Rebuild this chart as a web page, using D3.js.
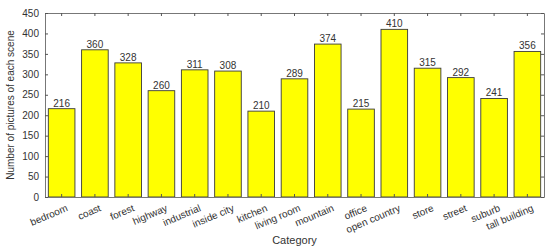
<!DOCTYPE html>
<html>
<head>
<meta charset="utf-8">
<script src="https://cdn.jsdelivr.net/npm/d3@7"></script>
<style>
  body { margin: 0; background: #fff; }
  text { font-family: "Liberation Sans", Arial, sans-serif; fill: #333; }
</style>
</head>
<body>
<script>
var categories = ['bedroom','coast','forest','highway','industrial','inside city','kitchen','living room','mountain','office','open country','store','street','suburb','tall building'];
var counts = [216, 360, 328, 260, 311, 308, 210, 289, 374, 215, 410, 315, 292, 241, 356];
var yTicks = [0, 50, 100, 150, 200, 250, 300, 350, 400, 450];

var w = 550, h = 251;
var plotLeft = 45, plotRight = 544, plotTop = 13, plotBottom = 197;

var svg = d3.select('body').append('svg')
  .attr('width', w)
  .attr('height', h);

/* ===== scales ===== */

var xScale = d3.scaleBand()
  .domain(categories)
  .range([plotLeft, plotRight])
  .paddingInner(0.2)
  .paddingOuter(0.1);

var yScale = d3.scaleLinear()
  .domain([0, 450])
  .range([plotBottom, plotTop]);

/* ===== bars ===== */

svg.selectAll('rect.bar').data(categories)
  .enter()
  .append('rect')
  .attr('class', 'bar')
  .attr('x', function(d) { return xScale(d); })
  .attr('y', function(d, i) { return yScale(counts[i]); })
  .attr('width', xScale.bandwidth())
  .attr('height', function(d, i) { return plotBottom - yScale(counts[i]); })
  .attr('fill', '#ffff00')
  .attr('stroke', '#3a3a3a')
  .attr('stroke-width', 0.9);

svg.selectAll('text.val').data(categories)
  .enter()
  .append('text')
  .attr('class', 'val')
  .attr('x', function(d) { return xScale(d) + xScale.bandwidth() / 2; })
  .attr('y', function(d, i) { return yScale(counts[i]) - 2; })
  .attr('text-anchor', 'middle')
  .attr('font-size', 10)
  .text(function(d, i) { return counts[i]; });

/* ===== axes ===== */

var tickX = function(d) { return xScale(d) + xScale.bandwidth() / 2; };

var xAxis = d3.axisBottom(xScale).tickSizeInner(-3).tickSizeOuter(0).tickFormat('');
var xAxisTop = d3.axisTop(xScale).tickSizeInner(-3).tickSizeOuter(0).tickFormat('');
var yAxis = d3.axisLeft(yScale).tickValues(yTicks).tickSizeInner(-3).tickSizeOuter(0).tickPadding(6);
var yAxisRight = d3.axisRight(yScale).tickValues(yTicks).tickSizeInner(-3).tickSizeOuter(0).tickFormat('');

function styleAxis(g) {
  g.select('.domain').attr('stroke', '#777');
  g.selectAll('.tick line').attr('stroke', '#555');
  g.selectAll('.tick text').attr('fill', '#333').attr('font-size', 10)
    .attr('font-family', '"Liberation Sans", Arial, sans-serif');
}

svg.append('g').attr('transform', 'translate(0,' + plotBottom + ')').call(xAxis).call(styleAxis);
svg.append('g').attr('transform', 'translate(0,' + plotTop + ')').call(xAxisTop).call(styleAxis);
svg.append('g').attr('transform', 'translate(' + plotLeft + ',0)').call(yAxis).call(styleAxis);
svg.append('g').attr('transform', 'translate(' + plotRight + ',0)').call(yAxisRight).call(styleAxis);

/* rotated category labels */
svg.selectAll('text.cat').data(categories)
  .enter()
  .append('text')
  .attr('class', 'cat')
  .attr('font-size', 10)
  .attr('text-anchor', 'end')
  .attr('transform', function(d) {
    return 'translate(' + (tickX(d) + 4) + ',' + (plotBottom + 7) + ') rotate(-23)';
  })
  .attr('dy', '0.71em')
  .text(function(d) { return d; });

/* axis titles */
svg.append('text')
  .attr('x', (plotLeft + plotRight) / 2)
  .attr('y', 244)
  .attr('text-anchor', 'middle')
  .attr('font-size', 11)
  .text('Category');

svg.append('text')
  .attr('transform', 'translate(14,' + ((plotTop + plotBottom) / 2) + ') rotate(-90)')
  .attr('text-anchor', 'middle')
  .attr('font-size', 10)
  .text('Number of pictures of each scene');
</script>
</body>
</html>
